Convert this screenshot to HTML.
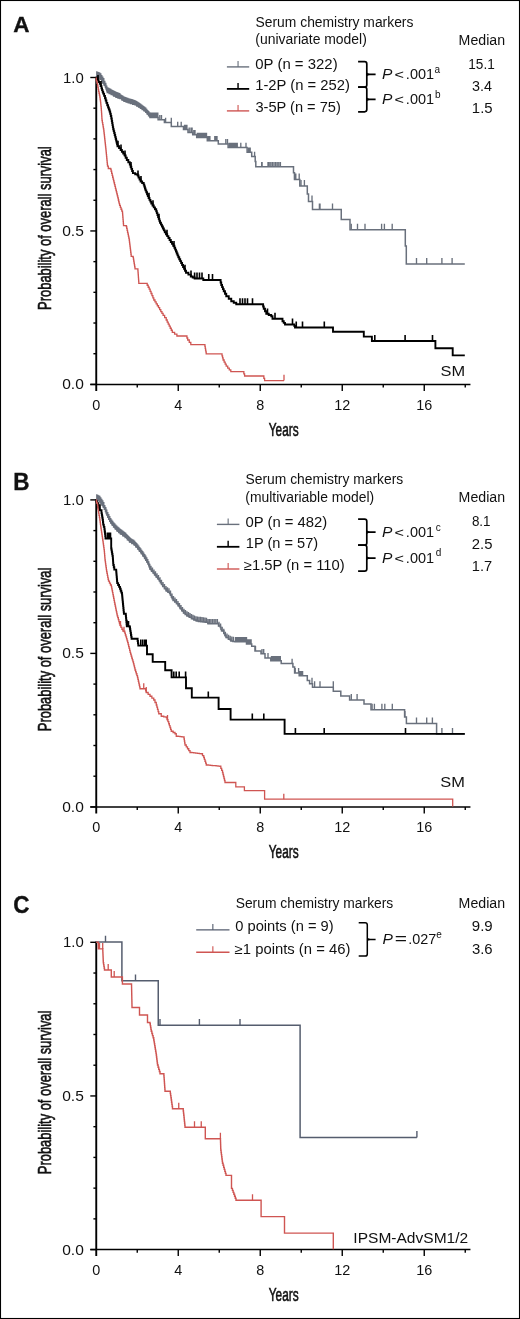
<!DOCTYPE html>
<html><head><meta charset="utf-8"><style>
html,body{margin:0;padding:0;background:#fff;}
svg{display:block;will-change:transform;}
text{font-family:"Liberation Sans", sans-serif;fill:#111;}
.cond{stroke:#111;stroke-width:0.6;}
.let{stroke:#111;stroke-width:0.35;}
</style></head><body>
<svg width="520" height="1319" viewBox="0 0 520 1319">
<rect x="0.5" y="0.5" width="519" height="1318" fill="none" stroke="#000" stroke-width="1.1"/>
<text transform="translate(13.2 32.3) scale(1 1.02)" font-size="22.5" font-weight="bold" class="let">A</text>
<text x="255.57" y="26.6" font-size="13.8" textLength="157.83" lengthAdjust="spacingAndGlyphs">Serum chemistry markers</text>
<text x="255.34" y="43.5" font-size="13.8" textLength="111.53" lengthAdjust="spacingAndGlyphs">(univariate model)</text>
<text x="458.64" y="45.3" font-size="13.8" textLength="46.48" lengthAdjust="spacingAndGlyphs">Median</text>
<line x1="226.9" y1="66.9" x2="249.2" y2="66.9" stroke="#69707c" stroke-width="1.4"/>
<line x1="238.05" y1="66.9" x2="238.05" y2="60.900000000000006" stroke="#69707c" stroke-width="1.12"/>
<line x1="226.9" y1="88.9" x2="249.2" y2="88.9" stroke="#000" stroke-width="1.8"/>
<line x1="238.05" y1="88.9" x2="238.05" y2="82.9" stroke="#000" stroke-width="1.44"/>
<line x1="226.9" y1="110.9" x2="249.2" y2="110.9" stroke="#cf5552" stroke-width="1.4"/>
<line x1="238.05" y1="110.9" x2="238.05" y2="104.9" stroke="#cf5552" stroke-width="1.12"/>
<text x="255.32" y="68.75" font-size="13.8" textLength="82.30" lengthAdjust="spacingAndGlyphs">0P (n = 322)</text>
<text x="255.18" y="89.9" font-size="13.8" textLength="94.74" lengthAdjust="spacingAndGlyphs">1-2P (n = 252)</text>
<text x="255.45" y="112.1" font-size="13.8" textLength="85.36" lengthAdjust="spacingAndGlyphs">3-5P (n = 75)</text>
<text x="468.26" y="68.6" font-size="13.8" textLength="26.50" lengthAdjust="spacingAndGlyphs">15.1</text>
<text x="471.95" y="90.8" font-size="13.8" textLength="19.97" lengthAdjust="spacingAndGlyphs">3.4</text>
<text x="471.86" y="113" font-size="13.8" textLength="20.77" lengthAdjust="spacingAndGlyphs">1.5</text>
<path d="M358.1 61.7 H364.6 Q366.8 61.7 366.8 63.900000000000006 V84.89999999999999 Q366.8 87.1 364.6 87.1 H358.1 M366.8 74.4 H375.6" fill="none" stroke="#000" stroke-width="1.7"/>
<path d="M366.6 71.80000000000001 Q367.1 73.80000000000001 369.6 73.9 L369.6 74.9 Q367.1 75.0 366.6 77.0 Z" fill="#000"/>
<path d="M358.1 87.1 H364.6 Q366.8 87.1 366.8 89.3 V109.6 Q366.8 111.8 364.6 111.8 H358.1 M366.8 99.44999999999999 H375.6" fill="none" stroke="#000" stroke-width="1.7"/>
<path d="M366.6 96.85 Q367.1 98.85 369.6 98.94999999999999 L369.6 99.94999999999999 Q367.1 100.04999999999998 366.6 102.04999999999998 Z" fill="#000"/>
<text x="382.02" y="79" font-size="13.8" font-style="italic" textLength="10.38" lengthAdjust="spacingAndGlyphs">P</text>
<text x="394.40" y="79.4" font-size="12.5" textLength="9.50" lengthAdjust="spacingAndGlyphs">&lt;</text>
<text x="405.88" y="79" font-size="13.8" textLength="28.23" lengthAdjust="spacingAndGlyphs">.001</text>
<text x="434.6" y="72.90" font-size="10">a</text>
<text x="382.02" y="103.8" font-size="13.8" font-style="italic" textLength="10.38" lengthAdjust="spacingAndGlyphs">P</text>
<text x="394.40" y="104.2" font-size="12.5" textLength="9.50" lengthAdjust="spacingAndGlyphs">&lt;</text>
<text x="405.88" y="103.8" font-size="13.8" textLength="28.23" lengthAdjust="spacingAndGlyphs">.001</text>
<text x="434.9" y="97.70" font-size="10">b</text>
<line x1="96.25" y1="76.8" x2="96.25" y2="390.9" stroke="#000" stroke-width="1.9"/>
<line x1="90.3" y1="384.4" x2="470.45" y2="384.4" stroke="#000" stroke-width="1.5"/>
<line x1="90.3" y1="384.40" x2="96.25" y2="384.40" stroke="#000" stroke-width="1.4"/>
<line x1="93.4" y1="353.71" x2="96.25" y2="353.71" stroke="#000" stroke-width="1.4"/>
<line x1="93.4" y1="323.02" x2="96.25" y2="323.02" stroke="#000" stroke-width="1.4"/>
<line x1="93.4" y1="292.33" x2="96.25" y2="292.33" stroke="#000" stroke-width="1.4"/>
<line x1="93.4" y1="261.64" x2="96.25" y2="261.64" stroke="#000" stroke-width="1.4"/>
<line x1="90.3" y1="230.95" x2="96.25" y2="230.95" stroke="#000" stroke-width="1.4"/>
<line x1="93.4" y1="200.26" x2="96.25" y2="200.26" stroke="#000" stroke-width="1.4"/>
<line x1="93.4" y1="169.57" x2="96.25" y2="169.57" stroke="#000" stroke-width="1.4"/>
<line x1="93.4" y1="138.88" x2="96.25" y2="138.88" stroke="#000" stroke-width="1.4"/>
<line x1="93.4" y1="108.19" x2="96.25" y2="108.19" stroke="#000" stroke-width="1.4"/>
<line x1="90.3" y1="77.50" x2="96.25" y2="77.50" stroke="#000" stroke-width="1.4"/>
<line x1="137.25" y1="384.4" x2="137.25" y2="387.59999999999997" stroke="#000" stroke-width="1.4"/>
<line x1="178.25" y1="384.4" x2="178.25" y2="390.9" stroke="#000" stroke-width="1.4"/>
<line x1="219.25" y1="384.4" x2="219.25" y2="387.59999999999997" stroke="#000" stroke-width="1.4"/>
<line x1="260.25" y1="384.4" x2="260.25" y2="390.9" stroke="#000" stroke-width="1.4"/>
<line x1="301.25" y1="384.4" x2="301.25" y2="387.59999999999997" stroke="#000" stroke-width="1.4"/>
<line x1="342.25" y1="384.4" x2="342.25" y2="390.9" stroke="#000" stroke-width="1.4"/>
<line x1="383.25" y1="384.4" x2="383.25" y2="387.59999999999997" stroke="#000" stroke-width="1.4"/>
<line x1="424.25" y1="384.4" x2="424.25" y2="390.9" stroke="#000" stroke-width="1.4"/>
<line x1="465.25" y1="384.4" x2="465.25" y2="387.59999999999997" stroke="#000" stroke-width="1.4"/>
<text x="63.06" y="82.5" font-size="14.3" textLength="20.72" lengthAdjust="spacingAndGlyphs">1.0</text>
<text x="62.19" y="235.95" font-size="14.3" textLength="21.66" lengthAdjust="spacingAndGlyphs">0.5</text>
<text x="62.19" y="389.4" font-size="14.3" textLength="21.61" lengthAdjust="spacingAndGlyphs">0.0</text>
<text x="96.25" y="410.00" text-anchor="middle" font-size="14.4">0</text>
<text x="178.25" y="410.00" text-anchor="middle" font-size="14.4">4</text>
<text x="260.25" y="410.00" text-anchor="middle" font-size="14.4">8</text>
<text x="342.25" y="410.00" text-anchor="middle" font-size="14.4">12</text>
<text x="424.25" y="410.00" text-anchor="middle" font-size="14.4">16</text>
<text transform="translate(283.7 436.00) scale(0.628 1)" text-anchor="middle" font-size="18.8" class="cond">Years</text>
<text transform="translate(51.1 228.10) rotate(-90) scale(0.676 1)" text-anchor="middle" font-size="19.1" class="cond">Probability of overall survival</text>
<text x="440.46" y="376.2" font-size="15" textLength="24.59" lengthAdjust="spacingAndGlyphs">SM</text>
<text transform="translate(13.3 490.4) scale(1 1.065)" font-size="22.5" font-weight="bold" class="let">B</text>
<text x="245.57" y="484.3" font-size="13.8" textLength="157.63" lengthAdjust="spacingAndGlyphs">Serum chemistry markers</text>
<text x="245.34" y="501.6" font-size="13.8" textLength="128.82" lengthAdjust="spacingAndGlyphs">(multivariable model)</text>
<text x="458.64" y="501.7" font-size="13.8" textLength="46.48" lengthAdjust="spacingAndGlyphs">Median</text>
<line x1="216.9" y1="524.4" x2="239.4" y2="524.4" stroke="#69707c" stroke-width="1.4"/>
<line x1="228.15" y1="524.4" x2="228.15" y2="518.4" stroke="#69707c" stroke-width="1.12"/>
<line x1="216.9" y1="546.8" x2="239.4" y2="546.8" stroke="#000" stroke-width="1.8"/>
<line x1="228.15" y1="546.8" x2="228.15" y2="540.8" stroke="#000" stroke-width="1.44"/>
<line x1="216.9" y1="569.0" x2="239.4" y2="569.0" stroke="#cf5552" stroke-width="1.4"/>
<line x1="228.15" y1="569.0" x2="228.15" y2="563.0" stroke="#cf5552" stroke-width="1.12"/>
<text x="245.42" y="526.8" font-size="13.8" textLength="81.90" lengthAdjust="spacingAndGlyphs">0P (n = 482)</text>
<text x="245.79" y="548" font-size="13.8" textLength="72.41" lengthAdjust="spacingAndGlyphs">1P (n = 57)</text>
<text x="243.84" y="570.2" font-size="13.8" textLength="100.87" lengthAdjust="spacingAndGlyphs">≥1.5P (n = 110)</text>
<text x="471.92" y="526.1" font-size="13.8" textLength="18.64" lengthAdjust="spacingAndGlyphs">8.1</text>
<text x="471.75" y="548.8" font-size="13.8" textLength="20.67" lengthAdjust="spacingAndGlyphs">2.5</text>
<text x="471.88" y="570.5" font-size="13.8" textLength="20.35" lengthAdjust="spacingAndGlyphs">1.7</text>
<path d="M358.1 519.2 H364.6 Q366.8 519.2 366.8 521.4000000000001 V542.9 Q366.8 545.1 364.6 545.1 H358.1 M366.8 532.1500000000001 H375.6" fill="none" stroke="#000" stroke-width="1.7"/>
<path d="M366.6 529.5500000000001 Q367.1 531.5500000000001 369.6 531.6500000000001 L369.6 532.6500000000001 Q367.1 532.7500000000001 366.6 534.7500000000001 Z" fill="#000"/>
<path d="M358.1 545.1 H364.6 Q366.8 545.1 366.8 547.3000000000001 V569.0 Q366.8 571.2 364.6 571.2 H358.1 M366.8 558.1500000000001 H375.6" fill="none" stroke="#000" stroke-width="1.7"/>
<path d="M366.6 555.5500000000001 Q367.1 557.5500000000001 369.6 557.6500000000001 L369.6 558.6500000000001 Q367.1 558.7500000000001 366.6 560.7500000000001 Z" fill="#000"/>
<text x="382.02" y="537" font-size="13.8" font-style="italic" textLength="10.38" lengthAdjust="spacingAndGlyphs">P</text>
<text x="394.40" y="537.4" font-size="12.5" textLength="9.50" lengthAdjust="spacingAndGlyphs">&lt;</text>
<text x="405.88" y="537" font-size="13.8" textLength="28.23" lengthAdjust="spacingAndGlyphs">.001</text>
<text x="435.8" y="530.90" font-size="10">c</text>
<text x="382.02" y="562.5" font-size="13.8" font-style="italic" textLength="10.38" lengthAdjust="spacingAndGlyphs">P</text>
<text x="394.40" y="562.9" font-size="12.5" textLength="9.50" lengthAdjust="spacingAndGlyphs">&lt;</text>
<text x="405.88" y="562.5" font-size="13.8" textLength="28.23" lengthAdjust="spacingAndGlyphs">.001</text>
<text x="435.8" y="556.40" font-size="10">d</text>
<line x1="96.25" y1="499.2" x2="96.25" y2="813.4" stroke="#000" stroke-width="1.9"/>
<line x1="90.3" y1="806.9" x2="470.45" y2="806.9" stroke="#000" stroke-width="1.5"/>
<line x1="90.3" y1="806.90" x2="96.25" y2="806.90" stroke="#000" stroke-width="1.4"/>
<line x1="93.4" y1="776.20" x2="96.25" y2="776.20" stroke="#000" stroke-width="1.4"/>
<line x1="93.4" y1="745.50" x2="96.25" y2="745.50" stroke="#000" stroke-width="1.4"/>
<line x1="93.4" y1="714.80" x2="96.25" y2="714.80" stroke="#000" stroke-width="1.4"/>
<line x1="93.4" y1="684.10" x2="96.25" y2="684.10" stroke="#000" stroke-width="1.4"/>
<line x1="90.3" y1="653.40" x2="96.25" y2="653.40" stroke="#000" stroke-width="1.4"/>
<line x1="93.4" y1="622.70" x2="96.25" y2="622.70" stroke="#000" stroke-width="1.4"/>
<line x1="93.4" y1="592.00" x2="96.25" y2="592.00" stroke="#000" stroke-width="1.4"/>
<line x1="93.4" y1="561.30" x2="96.25" y2="561.30" stroke="#000" stroke-width="1.4"/>
<line x1="93.4" y1="530.60" x2="96.25" y2="530.60" stroke="#000" stroke-width="1.4"/>
<line x1="90.3" y1="499.90" x2="96.25" y2="499.90" stroke="#000" stroke-width="1.4"/>
<line x1="137.25" y1="806.9" x2="137.25" y2="810.1" stroke="#000" stroke-width="1.4"/>
<line x1="178.25" y1="806.9" x2="178.25" y2="813.4" stroke="#000" stroke-width="1.4"/>
<line x1="219.25" y1="806.9" x2="219.25" y2="810.1" stroke="#000" stroke-width="1.4"/>
<line x1="260.25" y1="806.9" x2="260.25" y2="813.4" stroke="#000" stroke-width="1.4"/>
<line x1="301.25" y1="806.9" x2="301.25" y2="810.1" stroke="#000" stroke-width="1.4"/>
<line x1="342.25" y1="806.9" x2="342.25" y2="813.4" stroke="#000" stroke-width="1.4"/>
<line x1="383.25" y1="806.9" x2="383.25" y2="810.1" stroke="#000" stroke-width="1.4"/>
<line x1="424.25" y1="806.9" x2="424.25" y2="813.4" stroke="#000" stroke-width="1.4"/>
<line x1="465.25" y1="806.9" x2="465.25" y2="810.1" stroke="#000" stroke-width="1.4"/>
<text x="63.06" y="504.9" font-size="14.3" textLength="20.72" lengthAdjust="spacingAndGlyphs">1.0</text>
<text x="62.19" y="658.4" font-size="14.3" textLength="21.66" lengthAdjust="spacingAndGlyphs">0.5</text>
<text x="62.19" y="811.9" font-size="14.3" textLength="21.61" lengthAdjust="spacingAndGlyphs">0.0</text>
<text x="96.25" y="831.80" text-anchor="middle" font-size="14.4">0</text>
<text x="178.25" y="831.80" text-anchor="middle" font-size="14.4">4</text>
<text x="260.25" y="831.80" text-anchor="middle" font-size="14.4">8</text>
<text x="342.25" y="831.80" text-anchor="middle" font-size="14.4">12</text>
<text x="424.25" y="831.80" text-anchor="middle" font-size="14.4">16</text>
<text transform="translate(283.7 857.80) scale(0.628 1)" text-anchor="middle" font-size="18.8" class="cond">Years</text>
<text transform="translate(51.1 649.40) rotate(-90) scale(0.676 1)" text-anchor="middle" font-size="19.1" class="cond">Probability of overall survival</text>
<text x="440.36" y="787.3" font-size="15" textLength="24.59" lengthAdjust="spacingAndGlyphs">SM</text>
<text transform="translate(13.2 912.6) scale(1 1.07)" font-size="22.5" font-weight="bold" class="let">C</text>
<text x="235.67" y="907.8" font-size="13.8" textLength="157.63" lengthAdjust="spacingAndGlyphs">Serum chemistry markers</text>
<text x="458.64" y="908.3" font-size="13.8" textLength="46.48" lengthAdjust="spacingAndGlyphs">Median</text>
<line x1="196.2" y1="929.9" x2="229.5" y2="929.9" stroke="#555d6e" stroke-width="1.4"/>
<line x1="212.85" y1="929.9" x2="212.85" y2="923.9" stroke="#555d6e" stroke-width="1.12"/>
<line x1="196.2" y1="952.2" x2="229.5" y2="952.2" stroke="#cf5552" stroke-width="1.4"/>
<line x1="212.85" y1="952.2" x2="212.85" y2="946.2" stroke="#cf5552" stroke-width="1.12"/>
<text x="235.23" y="931.4" font-size="13.8" textLength="98.38" lengthAdjust="spacingAndGlyphs">0 points (n = 9)</text>
<text x="234.63" y="953.8" font-size="13.8" textLength="115.79" lengthAdjust="spacingAndGlyphs">≥1 points (n = 46)</text>
<text x="471.79" y="931.1" font-size="13.8" textLength="20.92" lengthAdjust="spacingAndGlyphs">9.9</text>
<text x="471.93" y="954.3" font-size="13.8" textLength="20.72" lengthAdjust="spacingAndGlyphs">3.6</text>
<path d="M358.7 922.7 H365.1 Q367.3 922.7 367.3 924.9000000000001 V953.9 Q367.3 956.1 365.1 956.1 H358.7 M367.3 939.4000000000001 H375.6" fill="none" stroke="#000" stroke-width="1.5"/>
<path d="M367.1 936.8000000000001 Q367.6 938.8000000000001 370.1 938.9000000000001 L370.1 939.9000000000001 Q367.6 940.0000000000001 367.1 942.0000000000001 Z" fill="#000"/>
<text x="382.42" y="944" font-size="13.8" font-style="italic" textLength="10.38" lengthAdjust="spacingAndGlyphs">P</text>
<text x="394.77" y="944" font-size="13.8" textLength="12.26" lengthAdjust="spacingAndGlyphs">=</text>
<text x="408.28" y="944" font-size="13.8" textLength="28.04" lengthAdjust="spacingAndGlyphs">.027</text>
<text x="436.3" y="937.90" font-size="10">e</text>
<line x1="96.25" y1="941.5999999999999" x2="96.25" y2="1256.1" stroke="#000" stroke-width="1.9"/>
<line x1="90.3" y1="1249.6" x2="470.45" y2="1249.6" stroke="#000" stroke-width="1.5"/>
<line x1="90.3" y1="1249.60" x2="96.25" y2="1249.60" stroke="#000" stroke-width="1.4"/>
<line x1="93.4" y1="1218.87" x2="96.25" y2="1218.87" stroke="#000" stroke-width="1.4"/>
<line x1="93.4" y1="1188.14" x2="96.25" y2="1188.14" stroke="#000" stroke-width="1.4"/>
<line x1="93.4" y1="1157.41" x2="96.25" y2="1157.41" stroke="#000" stroke-width="1.4"/>
<line x1="93.4" y1="1126.68" x2="96.25" y2="1126.68" stroke="#000" stroke-width="1.4"/>
<line x1="90.3" y1="1095.95" x2="96.25" y2="1095.95" stroke="#000" stroke-width="1.4"/>
<line x1="93.4" y1="1065.22" x2="96.25" y2="1065.22" stroke="#000" stroke-width="1.4"/>
<line x1="93.4" y1="1034.49" x2="96.25" y2="1034.49" stroke="#000" stroke-width="1.4"/>
<line x1="93.4" y1="1003.76" x2="96.25" y2="1003.76" stroke="#000" stroke-width="1.4"/>
<line x1="93.4" y1="973.03" x2="96.25" y2="973.03" stroke="#000" stroke-width="1.4"/>
<line x1="90.3" y1="942.30" x2="96.25" y2="942.30" stroke="#000" stroke-width="1.4"/>
<line x1="137.25" y1="1249.6" x2="137.25" y2="1252.8" stroke="#000" stroke-width="1.4"/>
<line x1="178.25" y1="1249.6" x2="178.25" y2="1256.1" stroke="#000" stroke-width="1.4"/>
<line x1="219.25" y1="1249.6" x2="219.25" y2="1252.8" stroke="#000" stroke-width="1.4"/>
<line x1="260.25" y1="1249.6" x2="260.25" y2="1256.1" stroke="#000" stroke-width="1.4"/>
<line x1="301.25" y1="1249.6" x2="301.25" y2="1252.8" stroke="#000" stroke-width="1.4"/>
<line x1="342.25" y1="1249.6" x2="342.25" y2="1256.1" stroke="#000" stroke-width="1.4"/>
<line x1="383.25" y1="1249.6" x2="383.25" y2="1252.8" stroke="#000" stroke-width="1.4"/>
<line x1="424.25" y1="1249.6" x2="424.25" y2="1256.1" stroke="#000" stroke-width="1.4"/>
<line x1="465.25" y1="1249.6" x2="465.25" y2="1252.8" stroke="#000" stroke-width="1.4"/>
<text x="63.06" y="947.3" font-size="14.3" textLength="20.72" lengthAdjust="spacingAndGlyphs">1.0</text>
<text x="62.19" y="1100.95" font-size="14.3" textLength="21.66" lengthAdjust="spacingAndGlyphs">0.5</text>
<text x="62.19" y="1254.6" font-size="14.3" textLength="21.61" lengthAdjust="spacingAndGlyphs">0.0</text>
<text x="96.25" y="1275.20" text-anchor="middle" font-size="14.4">0</text>
<text x="178.25" y="1275.20" text-anchor="middle" font-size="14.4">4</text>
<text x="260.25" y="1275.20" text-anchor="middle" font-size="14.4">8</text>
<text x="342.25" y="1275.20" text-anchor="middle" font-size="14.4">12</text>
<text x="424.25" y="1275.20" text-anchor="middle" font-size="14.4">16</text>
<text transform="translate(283.7 1301.20) scale(0.628 1)" text-anchor="middle" font-size="18.8" class="cond">Years</text>
<text transform="translate(51.1 1092.40) rotate(-90) scale(0.676 1)" text-anchor="middle" font-size="19.1" class="cond">Probability of overall survival</text>
<text x="353.37" y="1243.1" font-size="15.2" textLength="114.81" lengthAdjust="spacingAndGlyphs">IPSM-AdvSM1/2</text>
<path d="M96.25 77.50H98.00V78.30H100.50V79.30H101.75V81.30H103.00V83.30H104.25V85.30H105.50V87.30H106.10V89.03H106.70V90.77H107.30V92.50H109.30V93.55H111.30V94.60H113.65V95.90H116.00V97.20H118.00V97.90H120.00V98.60H122.00V99.90H124.00V101.20H126.15V102.00H128.30V102.80H130.53V103.47H132.77V104.13H135.00V104.80H136.83V105.93H138.67V107.07H140.50V108.20H142.27V109.53H144.03V110.87H145.80V112.20H147.20V113.93H148.60V115.67H150.00V117.40H158.10V119.70H164.40V122.60H171.30V126.60H183.50V129.50H188.00V132.40H192.70V134.70H196.70V137.60H207.30V140.70H218.30V143.90H228.10V147.60H247.10V152.20H251.70V156.60H255.20V161.50H255.80V166.80H293.50V172.70H294.50V179.60H299.80V186.00H307.30V194.10H308.50V201.60H312.50V209.50H341.25V219.50H350.00V229.70H405.30V246.00H406.30V264.10H464.80" fill="none" stroke="#69707c" stroke-width="1.5" stroke-linejoin="miter"/>
<path d="M96.80 77.75V71.25M97.80 78.21V71.71M98.80 78.62V72.12M99.80 79.02V72.52M100.80 79.78V73.28M101.80 81.38V74.88M102.80 82.98V76.48M103.80 84.58V78.08M104.80 86.18V80.68M105.80 88.17V82.67M106.80 91.06V85.56M107.80 92.76V87.26M108.80 93.29V87.79M109.80 93.81V88.31M110.80 94.34V88.84M111.80 94.88V89.38M112.80 95.43V89.93M113.80 95.98V90.48M114.80 96.54V91.04M115.80 97.09V91.59M116.80 97.48V91.98M117.80 97.83V92.33M118.80 98.18V92.68M119.80 98.53V93.03M120.80 99.12V94.32M121.80 99.77V94.97M122.80 100.42V95.62M123.80 101.07V96.27M124.80 101.50V96.70M125.80 101.87V97.07M126.80 102.24V97.44M127.80 102.61V97.81M128.80 102.95V98.15M129.80 103.25V98.45M130.80 103.55V98.75M131.80 103.84V99.04M132.80 104.14V99.34M133.80 104.44V99.64M134.80 104.74V99.94M135.80 105.29V100.49M136.80 105.91V101.11M137.80 106.53V101.73M138.80 107.15V102.35M139.80 107.77V102.97M140.80 108.43V103.63M141.80 109.18V104.38M142.80 109.94V105.14M143.80 110.69V105.89M144.80 111.45V106.65M145.80 112.20V107.40M146.80 113.44V108.64M147.80 114.68V109.88M148.80 115.91V111.11M149.80 117.15V112.35M150.80 117.40V112.60M151.80 117.40V112.60M152.80 117.40V112.60M153.80 117.40V112.60M154.80 117.40V112.60M155.80 117.40V112.60M156.80 117.40V112.60M157.80 117.40V112.60M159.80 119.70V114.90M161.50 119.70V114.90M165.60 122.60V117.80M171.30 122.60V117.80M177.70 126.60V121.80M181.20 126.60V121.80M184.60 129.50V124.70M185.80 129.50V124.70M186.90 129.50V124.70M189.20 132.40V127.60M191.00 132.40V127.60M192.10 132.40V127.60M193.80 134.70V129.90M195.00 134.70V129.90M197.30 137.60V132.80M198.45 137.60V132.80M199.60 137.60V132.80M200.75 137.60V132.80M201.90 137.60V132.80M203.05 137.60V132.80M204.20 137.60V132.80M205.35 137.60V132.80M206.50 137.60V132.80M208.80 140.70V135.90M207.90 140.70V135.90M208.90 140.70V135.90M209.90 140.70V135.90M214.80 140.70V135.90M215.90 140.70V135.90M217.00 140.70V135.90M225.80 143.90V139.10M227.50 143.90V139.10M229.20 147.60V142.80M230.35 147.60V142.80M231.50 147.60V142.80M232.65 147.60V142.80M233.80 147.60V142.80M234.95 147.60V142.80M236.10 147.60V142.80M237.25 147.60V142.80M240.80 147.60V142.80M246.00 147.60V142.80M248.20 152.20V147.40M249.20 152.20V147.40M250.20 152.20V147.40M254.60 156.60V151.80M261.70 166.80V162.00M262.10 166.80V162.00M268.00 166.80V162.00M269.20 166.80V162.00M270.80 166.80V162.00M272.40 166.80V162.00M274.00 166.80V162.00M275.60 166.80V162.00M277.20 166.80V162.00M278.80 166.80V162.00M280.40 166.80V162.00M294.60 179.60V173.60M295.80 179.60V173.60M299.20 179.60V173.60M301.00 186.00V180.00M304.40 186.00V180.00M312.00 201.60V195.60M319.40 209.50V203.50M320.00 209.50V203.50M332.50 209.50V203.50M351.25 229.70V223.70M357.50 229.70V223.70M365.00 229.70V223.70M381.60 229.70V223.70M384.40 229.70V223.70M392.20 229.70V223.70M416.50 264.10V258.10M426.70 264.10V258.10M441.90 264.10V258.10M452.10 264.10V258.10" fill="none" stroke="#69707c" stroke-width="1.35"/>
<path d="M96.25 77.50H97.50V80.30H98.65V82.05H99.80V83.80H100.65V86.10H101.50V88.40H102.07V90.13H102.63V91.87H103.20V93.60H104.10V95.90H105.00V98.20H105.70V100.55H106.40V102.90H107.25V105.20H108.10V107.50H108.85V109.50H109.60V111.50H110.20V113.75H110.80V116.00H111.30V118.50H111.80V121.00H112.15V123.05H112.50V125.10H112.85V127.15H113.20V129.20H113.70V131.12H114.20V133.05H114.70V134.97H115.20V136.90H115.66V138.76H116.12V140.62H116.58V142.48H117.04V144.34H117.50V146.20H119.05V148.10H120.60V150.00H121.90V151.80H123.20V153.60H124.50V155.40H125.65V157.70H126.80V160.00H128.30V162.30H129.80V164.60H130.58V166.72H131.35V168.85H132.12V170.97H132.90V173.10H135.20V174.25H137.50V175.40H138.53V177.43H139.57V179.47H140.60V181.50H142.15V183.05H143.70V184.60H144.30V186.53H144.90V188.47H145.50V190.40H146.28V192.30H147.05V194.20H147.82V196.10H148.60V198.00H149.50V199.83H150.40V201.67H151.30V203.50H152.53V205.43H153.75V207.35H154.97V209.27H156.20V211.20H156.83V213.12H157.47V215.03H158.10V216.95H158.73V218.87H159.37V220.78H160.00V222.70H160.96V224.62H161.92V226.54H162.88V228.46H163.84V230.38H164.80V232.30H166.00V234.23H167.20V236.15H168.40V238.07H169.60V240.00H170.80V241.93H172.00V243.85H173.20V245.77H174.40V247.70H175.18V249.62H175.96V251.54H176.74V253.46H177.52V255.38H178.30V257.30H179.25V259.23H180.20V261.15H181.15V263.07H182.10V265.00H183.07V266.93H184.05V268.85H185.03V270.77H186.00V272.70H188.40V274.60H190.80V276.50H192.70V277.50H194.60V278.50H202.30H203.30V280.00H220.00H220.62V282.50H221.25V285.00H222.08V287.08H222.92V289.17H223.75V291.25H225.00V293.75H226.25V296.25H228.75V298.75H231.25V301.25H233.75V302.75H236.25V304.25H262.50H263.12V306.50H263.75V308.75H265.00V311.25H266.25V313.75H268.75V315.00H271.25V316.25H272.50V318.75H281.25H282.50V321.25H283.75V322.88H285.00V324.50H293.75H294.38V326.00H295.00V327.50H333.00V331.70H363.80V336.60H371.90V341.00H435.40V348.20H452.70V355.40H464.80" fill="none" stroke="#000" stroke-width="1.9" stroke-linejoin="miter"/>
<path d="M98.00 81.06V75.06M101.00 87.05V81.05M118.00 146.81V140.81M121.00 150.55V144.55M125.00 156.40V150.40M131.00 167.89V161.89M138.00 176.38V170.38M141.00 181.90V175.90M149.00 198.81V192.81M153.00 206.17V200.17M159.00 219.67V213.67M167.00 235.83V229.83M174.00 247.06V241.06M185.00 270.73V264.73M191.00 276.61V270.61M194.60 278.50V272.50M197.00 278.50V272.50M199.50 278.50V272.50M202.00 278.50V272.50M208.75 280.00V274.00M212.50 280.00V274.00M240.00 304.25V298.25M242.50 304.25V298.25M245.00 304.25V298.25M247.50 304.25V298.25M252.50 304.25V298.25M267.50 314.38V308.38M275.00 318.75V312.75M292.50 324.50V318.50M296.25 327.50V321.50M302.50 327.50V321.50M324.30 327.50V321.50M374.80 341.00V335.00M405.10 341.00V335.00M432.50 341.00V335.00" fill="none" stroke="#000" stroke-width="1.6"/>
<path d="M96.25 77.50V80.90H96.90V83.20H97.50V85.50H97.87V87.43H98.23V89.37H98.60V91.30H99.00V93.23H99.40V95.17H99.80V97.10H100.07V99.03H100.33V100.97H100.60V102.90H100.80V104.80H101.00V106.70H101.20V108.60H101.33V110.40H101.47V112.20H101.60V114.00H101.73V116.17H101.87V118.33H102.00V120.50H102.36V122.60H102.72V124.70H103.08V126.80H103.44V128.90H103.80V131.00H104.02V132.98H104.24V134.96H104.46V136.94H104.68V138.92H104.90V140.90H105.12V142.88H105.34V144.86H105.56V146.84H105.78V148.82H106.00V150.80H106.19V152.73H106.38V154.65H106.56V156.57H106.75V158.50H106.94V160.43H107.12V162.35H107.31V164.27H107.50V166.20H108.30V168.50H110.60V169.20H111.13V171.27H111.67V173.33H112.20V175.40H112.66V177.24H113.12V179.08H113.58V180.92H114.04V182.76H114.50V184.60H114.96V186.44H115.42V188.28H115.88V190.12H116.34V191.96H116.80V193.80H117.30V195.87H117.80V197.93H118.30V200.00H118.73V201.80H119.17V203.60H119.60V205.40H120.32V207.32H121.05V209.25H121.78V211.18H122.50V213.10H122.67V215.18H122.83V217.27H123.00V219.35H123.17V221.43H123.33V223.52H123.50V225.60H126.30V226.50H126.71V228.43H127.13V230.36H127.54V232.29H127.96V234.21H128.37V236.14H128.79V238.07H129.20V240.00H129.45V242.04H129.70V244.07H129.95V246.11H130.20V248.15H130.45V250.19H130.70V252.23H130.95V254.26H131.20V256.30H133.10V257.30H133.42V259.22H133.73V261.13H134.05V263.05H134.37V264.97H134.68V266.88H135.00V268.80H137.90V270.80H138.05V272.88H138.20V274.97H138.35V277.05H138.50V279.13H138.65V281.22H138.80V283.30H146.20H147.20V285.27H148.20V287.23H149.20V289.20H150.12V291.36H151.04V293.52H151.96V295.68H152.88V297.84H153.80V300.00H154.98V301.93H156.15V303.85H157.32V305.77H158.50V307.70H159.65V309.62H160.80V311.55H161.95V313.47H163.10V315.40H164.65V317.70H166.20V320.00H167.20V322.07H168.20V324.13H169.20V326.20H170.23V328.23H171.27V330.27H172.30V332.30H174.60V334.15H176.90V336.00H186.20H186.95V338.00H187.70V340.00H189.25V342.30H190.80V344.60H204.60H204.92V346.44H205.24V348.28H205.56V350.12H205.88V351.96H206.20V353.80H221.50H222.03V355.87H222.57V357.93H223.10V360.00H224.13V362.07H225.17V364.13H226.20V366.20H227.73V368.03H229.27V369.87H230.80V371.70H243.10H243.85V373.85H244.60V376.00H263.10H263.85V378.30H264.60V380.60H284.00" fill="none" stroke="#cf5552" stroke-width="1.3" stroke-linejoin="miter"/>
<path d="M284.00 380.60V374.80" fill="none" stroke="#cf5552" stroke-width="1.3"/>
<path d="M96.25 499.90H98.03V500.80H99.80V501.70H100.93V503.43H102.07V505.17H103.20V506.90H104.35V509.20H105.50V511.50H106.27V513.43H107.03V515.37H107.80V517.30H108.77V519.23H109.73V521.17H110.70V523.10H112.15V525.10H113.60V527.10H115.35V529.10H117.10V531.10H118.80V532.55H120.50V534.00H122.85V535.70H125.20V537.40H127.40V539.75H129.60V542.10H131.90V543.50H134.20V544.90H135.95V546.90H137.70V548.90H139.45V551.25H141.20V553.60H142.90V556.00H144.60V558.40H145.77V560.33H146.93V562.27H148.10V564.20H149.05V566.70H150.00V569.20H151.53V571.13H153.07V573.07H154.60V575.00H156.13V576.93H157.67V578.87H159.20V580.80H160.37V582.70H161.53V584.60H162.70V586.50H164.45V588.80H166.20V591.10H167.90V592.25H169.60V593.40H170.47V595.15H171.35V596.90H172.22V598.65H173.10V600.40H174.80V602.10H176.50V603.80H178.25V606.10H180.00V608.40H181.75V610.75H183.50V613.10H185.20V614.50H186.90V615.90H189.20V617.35H191.50V618.80H193.85V619.95H196.20V621.10H198.50V621.40H200.80V621.70H203.10V622.03H205.40V622.37H207.70V622.70H208.00V623.80H218.10H218.50V626.10H220.40V627.60H220.95V629.20H221.50V630.80H223.80V633.60H224.90V635.60H226.00V637.60H228.40V639.35H230.80V641.10H232.90V641.40H235.00V641.70H246.50V644.00H251.70V646.30H255.00V650.90H261.00V653.80H265.00V657.90H270.80V660.80H281.20V663.60H292.90V667.10H294.60V672.90H299.20V675.80H307.30V680.40H309.60V683.80H312.50V687.30H333.30V691.30H340.80V695.90H349.60V700.00H364.00V704.00H371.00V709.80H404.60V717.10H406.40V723.40H436.60V734.00H464.80" fill="none" stroke="#69707c" stroke-width="1.5" stroke-linejoin="miter"/>
<path d="M96.80 500.18V494.18M97.80 500.69V494.69M98.80 501.19V495.19M99.80 501.70V495.70M100.80 503.23V497.23M101.80 504.76V498.76M102.80 506.29V500.29M103.80 508.10V502.10M104.80 510.10V504.90M105.80 512.26V507.06M106.80 514.78V509.58M107.80 517.30V512.10M108.80 519.30V514.10M109.80 521.30V516.10M110.80 523.24V518.04M111.80 524.62V519.42M112.80 526.00V520.80M113.80 527.33V522.13M114.80 528.47V523.27M115.80 529.61V524.41M116.80 530.76V525.56M117.80 531.70V526.50M118.80 532.55V527.35M119.80 533.40V528.20M120.80 534.22V529.02M121.80 534.94V529.74M122.80 535.66V530.46M123.80 536.39V531.19M124.80 537.11V531.91M125.80 538.04V532.84M126.80 539.11V533.91M127.80 540.18V534.98M128.80 541.25V536.05M129.80 542.22V537.02M130.80 542.83V538.03M131.80 543.44V538.64M132.80 544.05V539.25M133.80 544.66V539.86M134.80 545.59V540.79M135.80 546.73V541.93M136.80 547.87V543.07M137.80 549.03V544.23M138.80 550.38V545.58M139.80 551.72V546.92M140.80 553.06V548.26M141.80 554.45V549.65M142.80 555.86V551.06M143.80 557.27V552.47M144.80 558.73V553.93M145.80 560.39V555.59M146.80 562.05V557.25M147.80 563.70V558.90M148.80 566.04V561.24M149.80 568.67V563.87M151.00 570.46V565.66M152.50 572.35V567.55M154.00 574.24V569.44M155.50 576.13V571.33M157.00 578.03V573.23M158.50 579.92V575.12M160.00 582.10V577.30M161.50 584.55V579.75M163.00 586.89V582.09M164.50 588.87V584.07M166.00 590.84V586.04M167.50 591.98V587.18M169.00 592.99V588.19M170.50 595.20V590.40M172.00 598.20V593.40M173.50 600.80V596.00M175.00 602.30V597.50M176.50 603.80V599.00M178.00 605.77V600.97M179.50 607.74V602.94M181.00 609.74V604.94M182.50 611.76V606.96M184.00 613.51V608.71M185.50 614.75V609.95M187.00 615.96V611.16M188.50 616.91V612.11M190.00 617.85V613.05M191.50 618.80V614.00M193.00 619.53V614.73M194.50 620.27V615.47M196.00 621.00V616.20M197.50 621.27V616.47M199.00 621.47V616.67M200.50 621.66V616.86M202.00 621.87V617.07M203.50 622.09V617.29M205.00 622.31V617.51M206.50 622.53V617.73M208.00 623.80V619.00M209.50 623.80V619.00M211.00 623.80V619.00M212.60 623.80V619.00M214.20 623.80V619.00M215.80 623.80V619.00M217.40 623.80V619.00M219.00 626.49V621.69M220.60 628.18V623.38M222.20 631.65V626.85M223.80 633.60V628.80M225.40 636.51V631.71M227.00 638.33V633.53M228.60 639.50V634.70M230.20 640.66V635.86M231.80 641.24V636.44M233.40 641.47V636.67M235.50 641.70V636.90M236.60 641.70V636.90M237.70 641.70V636.90M238.80 641.70V636.90M239.90 641.70V636.90M241.00 641.70V636.90M242.10 641.70V636.90M243.20 641.70V636.90M244.30 641.70V636.90M245.40 641.70V636.90M246.50 641.70V636.90M247.50 644.00V639.20M248.70 644.00V639.20M249.90 644.00V639.20M251.10 644.00V639.20M255.50 650.90V646.10M262.00 653.80V649.00M263.70 653.80V649.00M268.00 657.90V653.10M271.50 660.80V656.00M272.60 660.80V656.00M273.70 660.80V656.00M274.80 660.80V656.00M275.90 660.80V656.00M277.00 660.80V656.00M278.10 660.80V656.00M279.20 660.80V656.00M280.30 660.80V656.00M292.10 663.60V658.80M295.20 672.90V668.10M298.60 672.90V668.10M299.60 675.80V671.00M300.60 675.80V671.00M301.60 675.80V671.00M302.60 675.80V671.00M312.00 683.80V677.80M314.60 687.30V681.30M320.00 687.30V681.30M333.30 687.30V681.30M351.30 700.00V694.00M357.10 700.00V694.00M372.10 709.80V703.80M374.40 709.80V703.80M381.90 709.80V703.80M384.80 709.80V703.80M392.30 709.80V703.80M404.90 717.10V711.10M416.50 723.40V717.40M426.70 723.40V717.40M432.40 723.40V717.40M441.90 734.00V728.00M452.50 734.00V728.00" fill="none" stroke="#69707c" stroke-width="1.35"/>
<path d="M96.25 499.90V501.50H96.90V503.25H97.50V505.00H98.05V506.75H98.60V508.50H99.20V510.20H100.90H101.50V513.10H101.80V514.80H102.10V516.50H102.40V518.25H102.70V520.00H102.95V522.30H103.20V524.60H103.80V526.90H104.40V529.20H104.70V531.50H105.00V533.80H105.25V536.15H105.50V538.50H111.20V548.50H111.52V550.34H111.84V552.18H112.16V554.02H112.48V555.86H112.80V557.70H112.92V559.53H113.05V561.35H113.17V563.17H113.30V565.00H113.80V567.30H114.30V569.60H116.20V571.50H116.37V573.43H116.53V575.37H116.70V577.30H116.87V579.23H117.03V581.17H117.20V583.10H118.13V585.00H119.07V586.90H120.00V588.80H120.67V590.73H121.33V592.67H122.00V594.60H122.19V596.52H122.38V598.44H122.57V600.36H122.76V602.28H122.95V604.20H123.14V606.12H123.33V608.04H123.52V609.96H123.71V611.88H123.90V613.80H125.80V615.80H126.00V617.90H126.20V620.00H126.40V622.10H126.60V624.20H126.80V626.30H129.70V627.30H130.02V629.22H130.33V631.13H130.65V633.05H130.97V634.97H131.28V636.88H131.60V638.80H137.30H137.63V641.07H137.97V643.33H138.30V645.60H147.00V654.20H152.70V661.90H165.20V670.30H171.60V677.40H186.00V688.20H191.80V697.60H218.60V709.00H230.60V719.60H284.60V733.90H464.80" fill="none" stroke="#000" stroke-width="1.9" stroke-linejoin="miter"/>
<path d="M98.50 508.18V502.18M100.00 510.20V504.20M107.40 538.50V532.50M108.50 538.50V532.50M109.50 538.50V532.50M110.50 538.50V532.50M127.00 626.37V620.37M128.50 626.89V620.89M140.80 645.60V639.60M142.80 645.60V639.60M144.80 645.60V639.60M146.20 645.60V639.60M173.80 677.40V671.40M176.20 677.40V671.40M179.20 677.40V671.40M185.60 677.40V671.40M208.30 697.60V691.60M252.30 719.60V713.60M263.80 719.60V713.60M295.40 733.90V727.90M324.20 733.90V727.90M405.50 733.90V727.90" fill="none" stroke="#000" stroke-width="1.6"/>
<path d="M96.25 499.90H96.42V501.45H96.60V503.00H97.50V505.00H97.78V507.02H98.05V509.05H98.32V511.08H98.60V513.10H99.00V515.40H99.40V517.70H99.80V520.00H100.08V522.02H100.35V524.05H100.62V526.08H100.90V528.10H101.20V530.12H101.50V532.15H101.80V534.18H102.10V536.20H102.40V538.10H102.70V540.00H102.97V541.92H103.23V543.83H103.50V545.75H103.77V547.67H104.03V549.58H104.30V551.50H104.47V553.62H104.65V555.75H104.83V557.88H105.00V560.00H105.27V561.92H105.53V563.83H105.80V565.75H106.07V567.67H106.33V569.58H106.60V571.50H106.98V573.44H107.36V575.38H107.74V577.32H108.12V579.26H108.50V581.20H109.47V583.10H110.43V585.00H111.40V586.90H111.78V588.82H112.16V590.74H112.54V592.66H112.92V594.58H113.30V596.50H113.68V598.44H114.06V600.38H114.44V602.32H114.82V604.26H115.20V606.20H115.60V608.12H116.00V610.04H116.40V611.96H116.80V613.88H117.20V615.80H117.76V617.72H118.32V619.64H118.88V621.56H119.44V623.48H120.00V625.40H120.97V627.33H121.93V629.27H122.90V631.20H124.80V633.10H125.38V635.02H125.96V636.94H126.54V638.86H127.12V640.78H127.70V642.70H128.18V644.62H128.67V646.53H129.15V648.45H129.63V650.37H130.12V652.28H130.60V654.20H131.18V656.12H131.76V658.04H132.34V659.96H132.92V661.88H133.50V663.80H134.00V665.87H134.50V667.93H135.00V670.00H135.62V671.88H136.25V673.75H136.88V675.62H137.50V677.50H137.92V679.38H138.33V681.25H138.75V683.12H139.17V685.00H139.58V686.88H140.00V688.75H145.00H145.62V690.62H146.25V692.50H148.12V694.38H150.00V696.25H151.88V698.12H153.75V700.00H155.00V702.50H156.25V705.00H156.88V707.19H157.50V709.38H158.12V711.56H158.75V713.75H161.25V716.25H163.75V716.88H166.25V717.50H167.08V719.58H167.92V721.67H168.75V723.75H169.38V725.62H170.00V727.50H170.62V729.38H171.25V731.25H173.12V732.50H175.00V733.75H176.25V736.25H178.12V736.44H180.00V736.62H181.88V736.81H183.75V737.00H184.06V739.00H184.38V741.00H184.69V743.00H185.00V745.00H186.25V746.88H187.50V748.75H188.75V750.62H190.00V752.50H191.88V752.71H193.75V752.92H195.62V753.12H197.50V753.33H199.38V753.54H201.25V753.75H202.50V755.62H203.75V757.50H204.38V759.38H205.00V761.25H205.62V763.12H206.25V765.00H208.21V765.18H210.18V765.36H212.14V765.54H214.11V765.71H216.07V765.89H218.04V766.07H220.00V766.25H220.83V768.33H221.67V770.42H222.50V772.50H223.00V774.50H223.50V776.50H224.00V778.50H224.50V780.50H225.00V782.50H235.80V786.90H244.40V790.60H264.60V799.20H452.70V806.50" fill="none" stroke="#cf5552" stroke-width="1.3" stroke-linejoin="miter"/>
<path d="M120.50 626.40V620.90M124.00 632.30V626.80M143.75 688.75V683.25M146.25 692.50V687.00M167.50 720.62V715.12M283.80 799.20V793.70" fill="none" stroke="#cf5552" stroke-width="1.3"/>
<path d="M96.25 942.00H121.90V980.80H158.25V1025.30H300.10V1137.40H416.90" fill="none" stroke="#555d6e" stroke-width="1.5" stroke-linejoin="miter"/>
<path d="M105.50 942.00V935.70M135.50 980.80V974.50M160.00 1025.30V1019.00M199.40 1025.30V1019.00M240.00 1025.30V1019.00M416.90 1137.40V1131.10" fill="none" stroke="#555d6e" stroke-width="1.4"/>
<path d="M96.25 942.20H98.30V948.90H102.70H102.79V950.89H102.87V952.87H102.96V954.86H103.04V956.84H103.13V958.83H103.21V960.81H103.30V962.80H103.60V964.60H103.90V966.40H104.20V968.20H104.50V970.00H111.30V977.00H122.40V984.00H131.50H131.54V985.96H131.58V987.92H131.62V989.88H131.67V991.83H131.71V993.79H131.75V995.75H131.79V997.71H131.83V999.67H131.88V1001.62H131.92V1003.58H131.96V1005.54H132.00V1007.50H139.50V1015.00H147.50V1022.50H150.00V1023.75H150.31V1025.62H150.62V1027.50H150.94V1029.38H151.25V1031.25H151.88V1033.44H152.50V1035.62H153.12V1037.81H153.75V1040.00H154.06V1041.88H154.38V1043.75H154.69V1045.62H155.00V1047.50H155.31V1049.38H155.62V1051.25H155.94V1053.12H156.25V1055.00H156.50V1057.00H156.75V1059.00H157.00V1061.00H157.25V1063.00H157.50V1065.00H158.12V1067.19H158.75V1069.38H159.38V1071.56H160.00V1073.75H163.75H163.89V1075.69H164.03V1077.64H164.17V1079.58H164.31V1081.53H164.44V1083.47H164.58V1085.42H164.72V1087.36H164.86V1089.31H165.00V1091.25H170.00H170.31V1093.44H170.62V1095.62H170.94V1097.81H171.25V1100.00H171.56V1102.19H171.88V1104.38H172.19V1106.56H172.50V1108.75H183.00H183.25V1110.94H183.50V1113.12H183.75V1115.31H184.00V1117.50H184.20V1119.44H184.40V1121.38H184.60V1123.32H184.80V1125.26H185.00V1127.20H205.30V1138.70H220.40H220.47V1140.63H220.53V1142.57H220.60V1144.50H220.67V1146.43H220.73V1148.37H220.80V1150.30H221.08V1152.47H221.37V1154.63H221.65V1156.80H221.93V1158.97H222.22V1161.13H222.50V1163.30H223.08V1165.32H223.67V1167.33H224.25V1169.35H224.83V1171.37H225.42V1173.38H226.00V1175.40H231.50V1188.40H232.42V1190.37H233.13V1192.33H233.85V1194.30H234.57V1196.27H235.28V1198.23H236.00V1200.20H261.10V1216.60H284.50V1233.10H333.30V1249.20" fill="none" stroke="#cf5552" stroke-width="1.4" stroke-linejoin="miter"/>
<path d="M99.50 948.90V942.90M102.70 948.90V942.90M108.20 970.00V964.00M114.20 977.00V971.00M178.75 1108.75V1102.75M194.50 1127.20V1121.20M201.25 1127.20V1121.20M220.40 1138.70V1132.70M252.50 1200.20V1194.20" fill="none" stroke="#cf5552" stroke-width="1.3"/>
</svg>
</body></html>
